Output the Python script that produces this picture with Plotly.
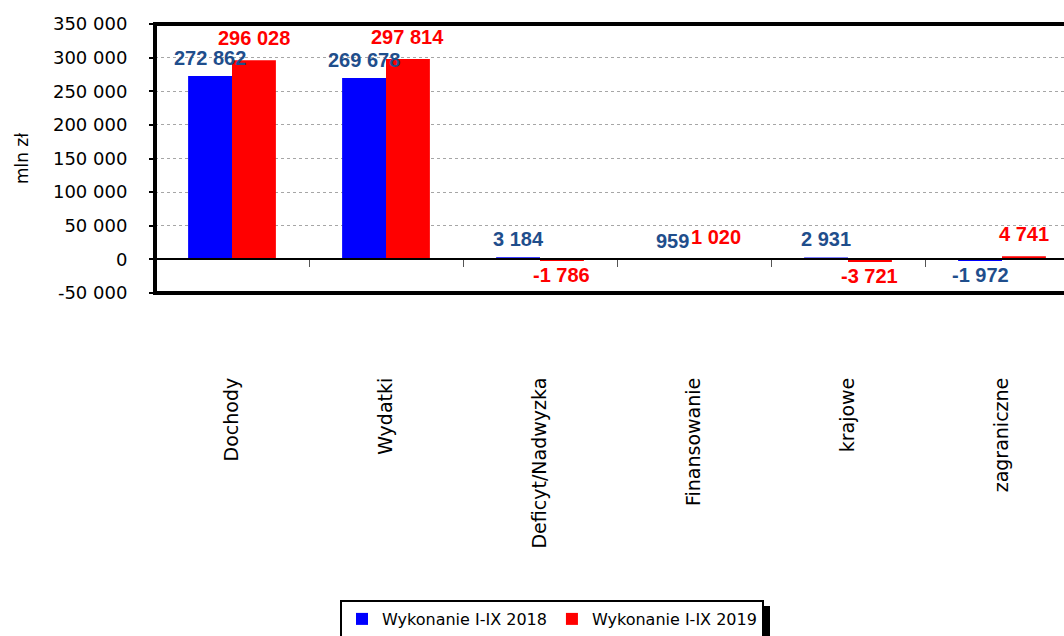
import plotly.graph_objects as go

categories = ["Dochody", "Wydatki", "Deficyt/Nadwyzka", "Finansowanie", "krajowe", "zagraniczne"]
series_2018_name = "Wykonanie I-IX 2018"
series_2019_name = "Wykonanie I-IX 2019"
values_2018 = [272862, 269678, 3184, 959, 2931, -1972]
values_2019 = [296028, 297814, -1786, 1020, -3721, 4741]
y_tick_vals = [-50000, 0, 50000, 100000, 150000, 200000, 250000, 300000, 350000]
y_tick_labels = ["-50 000", "0", "50 000", "100 000", "150 000", "200 000", "250 000", "300 000", "350 000"]


def fmt(v):
    return f"{v:,}".replace(",", " ")


W, H = 1064, 636
ML, MT, MB, MR = 155, 24, 343, 0
plot_w = W - ML - MR
plot_h = H - MT - MB
cat_px = 154.0
BARGAP = 0.43
bar_w = cat_px * (1 - BARGAP) / 2

BLUE_LABEL = "#1F4E8C"


def px_x(px):
    return (px - ML) / plot_w


def px_y(py):
    return (H - MB - py) / plot_h


fig = go.Figure()
fig.add_trace(go.Bar(
    x=categories, y=values_2018, name=series_2018_name,
    marker=dict(color="#0000FF", line=dict(width=0)),
))
fig.add_trace(go.Bar(
    x=categories, y=values_2019, name=series_2019_name,
    marker=dict(color="#FF0000", line=dict(width=0)),
))

annotations = []
for vals, color, side, gap_pos in ((values_2018, BLUE_LABEL, -1, 5), (values_2019, "#FF0000", 1, 9)):
    for cat, v in zip(categories, vals):
        pos = v >= 0
        annotations.append(dict(
            x=cat, y=v, xref="x", yref="y", text=fmt(v), showarrow=False,
            xshift=side * bar_w / 2,
            yanchor="bottom" if pos else "top",
            yshift=gap_pos if pos else -1,
            font=dict(family="Liberation Sans", size=20, color=color, weight="bold"),
        ))

zero_pos = (0 - y_tick_vals[0]) / (y_tick_vals[-1] - y_tick_vals[0])

fig.update_layout(
    width=W, height=H,
    margin=dict(l=ML, r=MR, t=MT, b=MB, autoexpand=False),
    paper_bgcolor="white", plot_bgcolor="white",
    barmode="group", bargap=BARGAP, bargroupgap=0,
    font=dict(family="DejaVu Sans", size=18, color="black"),
    showlegend=True,
    legend=dict(
        orientation="h", x=px_x(552), xanchor="center",
        y=px_y(600), yanchor="top",
        bordercolor="black", borderwidth=2, bgcolor="white",
        font=dict(family="DejaVu Sans", size=16, color="black"),
        itemwidth=30, traceorder="normal",
    ),
    xaxis=dict(
        type="category", range=[-0.5, -0.5 + plot_w / cat_px],
        anchor="free", position=zero_pos,
        showline=True, linecolor="black", linewidth=1.5,
        ticks="outside", tickson="boundaries", ticklen=7, tickcolor="#555555", tickwidth=1,
        tickangle=-90, ticklabelstandoff=110,
        tickfont=dict(family="DejaVu Sans", size=19, color="black"),
        showgrid=False, zeroline=False, fixedrange=True,
    ),
    yaxis=dict(
        range=[y_tick_vals[0], y_tick_vals[-1]],
        tickvals=y_tick_vals, ticktext=y_tick_labels,
        ticks="outside", ticklen=5, tickcolor="black", tickwidth=1.5,
        ticklabelstandoff=18,
        tickfont=dict(family="DejaVu Sans", size=18, color="black"),
        showgrid=True, gridcolor="#A6A6A6", griddash="dot", gridwidth=1,
        zeroline=False, showline=False, fixedrange=True,
        title=dict(text="mln zł", font=dict(family="DejaVu Sans", size=17), standoff=20),
    ),
    annotations=annotations,
    shapes=[
        dict(type="rect", xref="paper", yref="paper", x0=0, x1=1.2, y0=0, y1=1,
             line=dict(color="black", width=4), fillcolor="rgba(0,0,0,0)", layer="above"),
        # legend drop shadow
        dict(type="rect", xref="paper", yref="paper",
             x0=px_x(758), x1=px_x(770), y0=px_y(640), y1=px_y(606),
             line=dict(width=0), fillcolor="black", layer="below"),
    ],
)

fig.write_html("out.html", config={"displayModeBar": False},
               post_script="document.body.style.margin='0';")
